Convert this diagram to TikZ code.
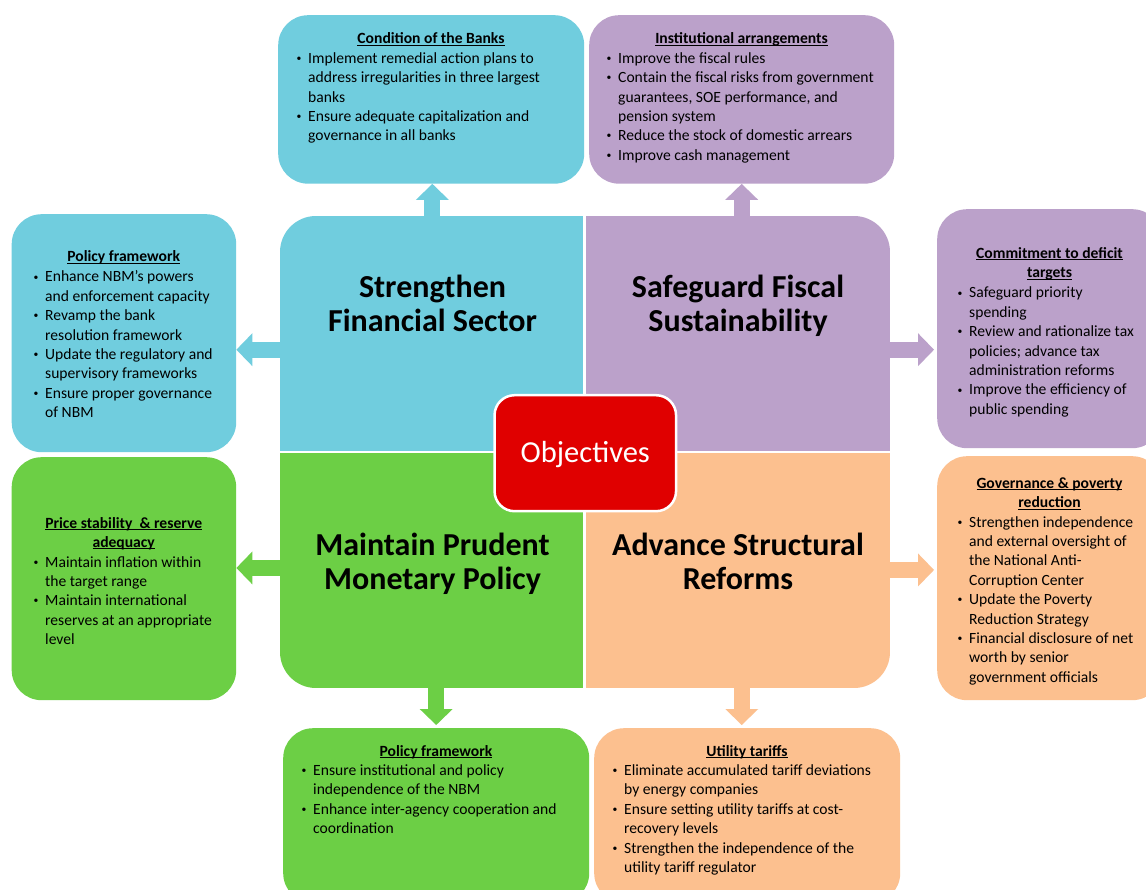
\documentclass[tikz,border=0pt]{standalone}
\usepackage{fontspec}
\usepackage{graphicx}
\setmainfont{Carlito}
\usetikzlibrary{arrows.meta}
\definecolor{cblue}{HTML}{70CDDE}
\definecolor{cpurple}{HTML}{BBA1CA}
\definecolor{cgreen}{HTML}{6CCF45}
\definecolor{corange}{HTML}{FCC08F}
\definecolor{cred}{HTML}{E00000}
\newcommand\bul{\makebox[12.3pt][l]{\hspace{0.6pt}\raisebox{1.9pt}{\scalebox{0.62}{•}}}}
\newcommand\ulx[1]{\setbox0\hbox{#1}\rlap{\rule[-1.9pt]{\wd0}{1.1pt}}\box0}
\newcommand\ilist[1]{\begin{tabular}[t]{@{}l@{}l@{}}#1\end{tabular}}
\newcommand\ctab[1]{\begin{tabular}[t]{@{}c@{}}#1\end{tabular}}
\tikzset{
  sbox/.style={rounded corners=30pt, inner sep=0pt, anchor=north west},
  qbox/.style={inner sep=0pt, anchor=north west},
  body/.style={inner sep=0pt, anchor=base west, font=\fontsize{15.6}{19.4}\selectfont},
  ttl/.style={inner sep=0pt, anchor=base, font=\fontsize{15.6}{19.4}\selectfont\bfseries},
  qtxt/.style={inner sep=0pt, anchor=base, font=\fontsize{32}{34.3}\selectfont\bfseries},
  barrow/.style={line width=16pt, -{Triangle[length=16pt,width=33pt,line width=0pt]}},
}
\begin{document}
\begin{tikzpicture}[x=1pt,y=-1pt]
\useasboundingbox (0,0) rectangle (1146,890);
\clip (0,0) rectangle (1146,890);
\fill[white] (0,0) rectangle (1146,890);

% quadrants
\begin{scope}
\clip[rounded corners=36pt] (280,216) rectangle (890,688);
\node[qbox, fill=cblue, minimum width=304.3pt, minimum height=235.5pt] (q1) at (280,216) {};
\node[qbox, fill=cpurple, minimum width=305.7pt, minimum height=235.5pt] (q2) at (584.3,216) {};
\node[qbox, fill=cgreen, minimum width=304.3pt, minimum height=236.5pt] (q3) at (280,451.5) {};
\node[qbox, fill=corange, minimum width=305.7pt, minimum height=236.5pt] (q4) at (584.3,451.5) {};
\draw[white, line width=2.5pt] (q1.north east) -- (q3.south east);
\draw[white, line width=2.5pt] (q1.south west) -- (q2.south east);
\end{scope}

% side boxes
\node[sbox, fill=cblue, minimum width=306pt, minimum height=168.5pt] (cond) at (278,15) {};
\node[sbox, fill=cpurple, minimum width=305pt, minimum height=168.5pt] (inst) at (589,15) {};
\node[sbox, fill=cblue, minimum width=224.5pt, minimum height=238pt] (polL) at (11.5,214) {};
\node[sbox, fill=cgreen, minimum width=224.5pt, minimum height=243pt] (price) at (11.5,457) {};
\node[sbox, fill=cpurple, minimum width=225pt, minimum height=239pt] (commit) at (937,209) {};
\node[sbox, fill=corange, minimum width=225pt, minimum height=244pt] (gov) at (937,456) {};
\node[sbox, fill=cgreen, minimum width=306pt, minimum height=175pt] (polB) at (283,728) {};
\node[sbox, fill=corange, minimum width=306pt, minimum height=175pt] (util) at (594,728) {};

% arrows
\coordinate (aL1) at ([yshift=-15.75pt]q1.west);
\coordinate (aR2) at ([yshift=-15.75pt]q2.east);
\coordinate (aL3) at ([yshift=2pt]q3.west);
\coordinate (aD4) at ([xshift=4.4pt]q4.south);
\draw[barrow, cblue] (q1.north) -- (q1.north |- cond.south);
\draw[barrow, cpurple] (inst.south |- q2.north) -- (inst.south);
\draw[barrow, cblue] (aL1) -- (aL1 -| polL.east);
\draw[barrow, cgreen] (aL3) -- (aL3 -| price.east);
\draw[barrow, cpurple] (aR2) -- ([xshift=-3pt]aR2 -| commit.west);
\draw[barrow, corange] (q4.east) -- ([xshift=-3pt]q4.east -| gov.west);
\draw[barrow, cgreen] (polB.north |- q3.south) -- ([yshift=3pt]polB.north);
\draw[barrow, corange] (aD4) -- ([yshift=3pt]aD4 |- util.north);

% centre box
\node[draw=white, line width=2.5pt, fill=cred, rounded corners=20pt, minimum width=181.5pt, minimum height=116pt, text height=18pt, text depth=0pt, inner sep=0pt, text=white, font=\fontsize{30.5}{32}\selectfont] (obj) at (585.3,453.2) {Objectives};

% quadrant titles
\node[qtxt] (q1t) at (432.5,297.5) {\ctab{Strengthen\\Financial Sector}};
\node[qtxt] (q2t) at (738,297.5) {\ctab{Safeguard Fiscal\\Sustainability}};
\node[qtxt] (q3t) at (432.5,555.5) {\ctab{Maintain Prudent\\Monetary Policy}};
\node[qtxt] (q4t) at (738,555.5) {\ctab{Advance Structural\\Reforms}};

% box texts
\node[ttl] (condt) at (431,43.8) {\ulx{Condition of the Banks}};
\node[body] (condl) at (295.7,63.3) {\ilist{%
\bul & Implement remedial action plans to\\
 & address irregularities in three largest\\
 & banks\\
\bul & Ensure adequate capitalization and\\
 & governance in all banks}};

\node[ttl] (instt) at (741.5,43.8) {\ulx{Institutional arrangements}};
\node[body] (instl) at (605.7,63.3) {\ilist{%
\bul & Improve the fiscal rules\\
\bul & Contain the fiscal risks from government\\
 & guarantees, SOE performance, and\\
 & pension system\\
\bul & Reduce the stock of domestic arrears\\
\bul & Improve cash management}};

\node[ttl] (polLt) at (123.7,262) {\ulx{Policy framework}};
\node[body] (polLl) at (32.7,282) {\ilist{%
\bul & Enhance NBM's powers\\
 & and enforcement capacity\\
\bul & Revamp the bank\\
 & resolution framework\\
\bul & Update the regulatory and\\
 & supervisory frameworks\\
\bul & Ensure proper governance\\
 & of NBM}};

\node[ttl] (pricet) at (123.7,528) {\ctab{\ulx{Price stability\ \ \& reserve}\\\ulx{adequacy}}};
\node[body] (pricel) at (32.7,567) {\ilist{%
\bul & Maintain inflation within\\
 & the target range\\
\bul & Maintain international\\
 & reserves at an appropriate\\
 & level}};

\node[ttl] (committ) at (1049.5,258.5) {\ctab{\ulx{Commitment to deficit}\\\ulx{targets}}};
\node[body] (commitl) at (956.7,298) {\ilist{%
\bul & Safeguard priority\\
 & spending\\
\bul & Review and rationalize tax\\
 & policies; advance tax\\
 & administration reforms\\
\bul & Improve the efficiency of\\
 & public spending}};

\node[ttl] (govt) at (1049.5,488.5) {\ctab{\ulx{Governance \& poverty}\\\ulx{reduction}}};
\node[body] (govl) at (956.7,527) {\ilist{%
\bul & Strengthen independence\\
 & and external oversight of\\
 & the National Anti-\\
 & Corruption Center\\
\bul & Update the Poverty\\
 & Reduction Strategy\\
\bul & Financial disclosure of net\\
 & worth by senior\\
 & government officials}};

\node[ttl] (polBt) at (436,756.5) {\ulx{Policy framework}};
\node[body] (polBl) at (300.7,775.5) {\ilist{%
\bul & Ensure institutional and policy\\
 & independence of the NBM\\
\bul & Enhance inter-agency cooperation and\\
 & coordination}};

\node[ttl] (utilt) at (747,756.5) {\ulx{Utility tariffs}};
\node[body] (utill) at (611.7,775.5) {\ilist{%
\bul & Eliminate accumulated tariff deviations\\
 & by energy companies\\
\bul & Ensure setting utility tariffs at cost-\\
 & recovery levels\\
\bul & Strengthen the independence of the\\
 & utility tariff regulator}};
\end{tikzpicture}
\end{document}
